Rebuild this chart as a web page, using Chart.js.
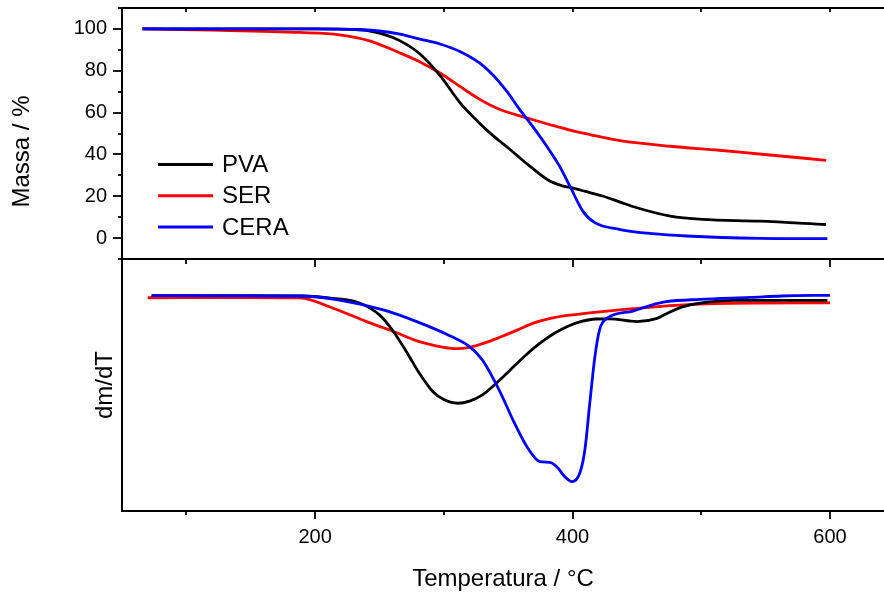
<!DOCTYPE html>
<html>
<head>
<meta charset="utf-8">
<script src="https://cdn.jsdelivr.net/npm/chart.js@4/dist/chart.umd.min.js"></script>
<style>
  html, body { margin: 0; padding: 0; background: #fff; overflow: hidden; }
  #wrap { position: relative; width: 884px; height: 594px; }
  canvas { position: absolute; left: 0; }
  #top { top: 0; }
  #bot { top: 250px; }
</style>
</head>
<body>
<div id="wrap">
  <canvas id="top" width="884" height="262"></canvas>
  <canvas id="bot" width="884" height="344"></canvas>
</div>
<script>
// ---------- data ----------
const seriesNames = ['PVA', 'SER', 'CERA'];
const seriesColors = ['#000000', '#ff0000', '#0000ff'];

// TGA (Massa / %)
const tgaPvaT  = [66, 150, 200, 235, 250, 260, 271, 281.5, 297, 312.5, 328, 336, 343.6, 351, 367, 382, 392, 398, 410, 424, 437, 450, 476, 501, 545, 597];
const tgaPvaM  = [100, 100, 100, 99.6, 98, 96, 92.6, 88, 77.8, 64.8, 54.8, 50.2, 46.3, 42.6, 34.3, 27.4, 25.0, 24.2, 22.3, 20.0, 17.2, 14.5, 10.5, 8.9, 8.1, 6.5];
const tgaSerT  = [66, 120, 188, 219, 243, 266, 281.5, 297, 312.5, 328, 336, 343.6, 351, 357, 367, 382, 398, 413.5, 437, 476, 514, 545, 597];
const tgaSerM  = [100, 99.4, 98.3, 97.2, 94.2, 88.5, 84.2, 78.9, 72.5, 66.3, 63.6, 61.5, 59.9, 58.8, 57.0, 54.3, 51.6, 49.5, 46.6, 43.9, 42.0, 40.2, 37.2];
const tgaCeraT = [66, 200, 235, 250, 265, 281.5, 297, 312.5, 328, 338, 349, 359, 369, 380, 390, 398, 408, 417, 437, 462, 489, 545, 598];
const tgaCeraM = [100, 100, 99.6, 99, 97.6, 95.1, 92.8, 89.2, 83.6, 78.1, 70.1, 61.4, 53.4, 43.9, 34.3, 24.8, 12.9, 7.5, 4.1, 2.1, 1.0, -0.1, -0.3];

// DTG (dm/dT, %/°C)
const dtgPvaT  = [73, 150, 190, 214, 235, 250, 260, 271, 281, 291.6, 300, 311, 320, 330, 341, 352, 363, 374, 385, 396, 407, 418, 429, 450, 465, 473, 486, 499, 525, 598];
const dtgPvaV  = [0.002, 0.002, 0, -0.013, -0.041, -0.107, -0.192, -0.315, -0.437, -0.541, -0.585, -0.606, -0.594, -0.559, -0.492, -0.415, -0.339, -0.271, -0.215, -0.172, -0.144, -0.130, -0.129, -0.145, -0.128, -0.100, -0.060, -0.041, -0.025, -0.025];
const dtgSerT  = [70, 150, 188, 214, 240, 260, 281, 300, 310, 320, 336, 344, 357, 369, 382, 396, 408, 447, 486, 538, 600];
const dtgSerV  = [-0.010, -0.009, -0.011, -0.069, -0.145, -0.198, -0.258, -0.290, -0.298, -0.290, -0.255, -0.232, -0.193, -0.155, -0.128, -0.110, -0.100, -0.072, -0.050, -0.040, -0.039];
const dtgCeraT = [73, 188, 219, 253, 279, 305, 320, 330, 343.6, 353.7, 364.5, 374.7, 382.4, 387.6, 394, 399.5, 405.7, 409.6, 413.5, 417.4, 421, 426.7, 447, 462, 473, 499, 538, 563, 600];
const dtgCeraV = [0.002, 0, -0.023, -0.079, -0.145, -0.226, -0.286, -0.362, -0.54, -0.70, -0.851, -0.936, -0.94, -0.964, -1.021, -1.049, -1.0, -0.87, -0.6, -0.343, -0.192, -0.126, -0.085, -0.050, -0.032, -0.019, -0.008, 0, 0.004];

// ticks
const xMajorTicks = [200, 400, 600];
const xMinorTicks = [100, 300, 500];
const yMajorTicks = [0, 20, 40, 60, 80, 100];
const yMinorTicks = [-10, 10, 30, 50, 70, 90, 110];

// ---------- helpers ----------
const FONT = "'Liberation Sans', Arial, Helvetica, sans-serif";
Chart.defaults.font.family = FONT;
Chart.defaults.color = '#000';

function pts(xs, ys) { return xs.map((x, i) => ({ x: x, y: ys[i] })); }
function ds(i, xs, ys, order) {
  return {
    label: seriesNames[i], data: pts(xs, ys), borderColor: seriesColors[i],
    borderWidth: 2.8, pointRadius: 0, cubicInterpolationMode: 'monotone', fill: false, order: order
  };
}
function noPadV(s) { s.paddingTop = 0; s.paddingBottom = 0; }
function noPadH(s) { s.paddingLeft = 0; s.paddingRight = 0; }

const framePlugin = {
  id: 'frame',
  afterDraw(chart, args, o) {
    const { ctx, chartArea: a, scales } = chart;
    const xs = scales.x, ys = scales.y;
    ctx.save();
    ctx.strokeStyle = '#000';
    ctx.lineWidth = 2;
    ctx.beginPath();
    ctx.moveTo(chart.width + 2, a.top); ctx.lineTo(a.left, a.top);
    ctx.lineTo(a.left, a.bottom); ctx.lineTo(chart.width + 2, a.bottom);
    ctx.stroke();
    ctx.lineWidth = 1.8;
    const vt = (vals, y0, len) => vals.forEach(v => {
      const px = Math.round(xs.getPixelForValue(v));
      ctx.beginPath(); ctx.moveTo(px, y0); ctx.lineTo(px, y0 + len); ctx.stroke();
    });
    const ht = (vals, len) => vals.forEach(v => {
      const py = Math.round(ys.getPixelForValue(v));
      ctx.beginPath(); ctx.moveTo(a.left, py); ctx.lineTo(a.left - len, py); ctx.stroke();
    });
    if (o.kind === 'top') {
      ht(yMajorTicks, 9); ht(yMinorTicks, 4);
      vt(xMajorTicks, a.top, 4); vt(xMinorTicks, a.top, 4);
      // legend
      ctx.font = '24px ' + FONT;
      ctx.textBaseline = 'middle';
      ctx.textAlign = 'left';
      chart.data.datasets.forEach((d, i) => {
        const y = 164.5 + i * 31.2;
        ctx.strokeStyle = d.borderColor; ctx.lineWidth = 3;
        ctx.beginPath(); ctx.moveTo(158, y); ctx.lineTo(213, y); ctx.stroke();
        ctx.fillStyle = '#000';
        ctx.fillText(d.label, 222, y + 1);
      });
      // y title
      ctx.save();
      ctx.translate(22, 151.5);
      ctx.rotate(-Math.PI / 2);
      ctx.textAlign = 'center';
      ctx.fillText('Massa / %', 0, 0);
      ctx.restore();
    } else {
      vt(xMajorTicks, a.top, 8); vt(xMinorTicks, a.top, 5);
      vt(xMajorTicks, a.bottom, 8); vt(xMinorTicks, a.bottom, 4);
    }
    ctx.restore();
  }
};

const xMin = 50, xMax = 642;

new Chart(document.getElementById('top'), {
  type: 'line',
  data: { datasets: [ds(0, tgaPvaT, tgaPvaM, 1), ds(1, tgaSerT, tgaSerM, 2), ds(2, tgaCeraT, tgaCeraM, 0)] },
  options: {
    responsive: false, animation: false, devicePixelRatio: 1,
    layout: { padding: { top: 8, bottom: 3, left: 0, right: 0 } },
    plugins: { legend: { display: false }, tooltip: { enabled: false }, frame: { kind: 'top' } },
    scales: {
      x: { type: 'linear', min: xMin, max: xMax, display: false, afterFit: s => { noPadH(s); s.height = 0; } },
      y: {
        type: 'linear', min: -10, max: 110,
        afterBuildTicks: s => { s.ticks = yMajorTicks.map(v => ({ value: v })); },
        afterFit: s => { s.width = 122; noPadV(s); },
        grid: { display: false, drawTicks: false }, border: { display: false },
        ticks: { font: { size: 20 }, padding: 15, autoSkip: false, color: '#000' }
      }
    }
  },
  plugins: [framePlugin]
});

new Chart(document.getElementById('bot'), {
  type: 'line',
  data: { datasets: [ds(0, dtgPvaT, dtgPvaV, 1), ds(1, dtgSerT, dtgSerV, 2), ds(2, dtgCeraT, dtgCeraV, 0)] },
  options: {
    responsive: false, animation: false, devicePixelRatio: 1,
    layout: { padding: { top: 9, bottom: 0, left: 0, right: 0 } },
    plugins: { legend: { display: false }, tooltip: { enabled: false }, frame: { kind: 'bot' } },
    scales: {
      x: {
        type: 'linear', min: xMin, max: xMax,
        afterBuildTicks: s => { s.ticks = xMajorTicks.map(v => ({ value: v })); },
        afterFit: s => { s.height = 83; noPadH(s); },
        grid: { display: false, drawTicks: false }, border: { display: false },
        ticks: { font: { size: 20 }, padding: 14, autoSkip: false, maxRotation: 0, color: '#000' },
        title: { display: true, text: 'Temperatura / °C', font: { size: 24 }, padding: { top: 0, bottom: 0 }, color: '#000' }
      },
      y: {
        type: 'linear', min: -1.215, max: 0.209,
        afterFit: s => { s.width = 122; noPadV(s); },
        grid: { display: false, drawTicks: false }, border: { display: false },
        ticks: { display: false },
        title: { display: true, text: 'dm/dT', font: { size: 24 }, padding: { top: 91, bottom: 0 }, color: '#000' }
      }
    }
  },
  plugins: [framePlugin]
});
</script>
</body>
</html>
